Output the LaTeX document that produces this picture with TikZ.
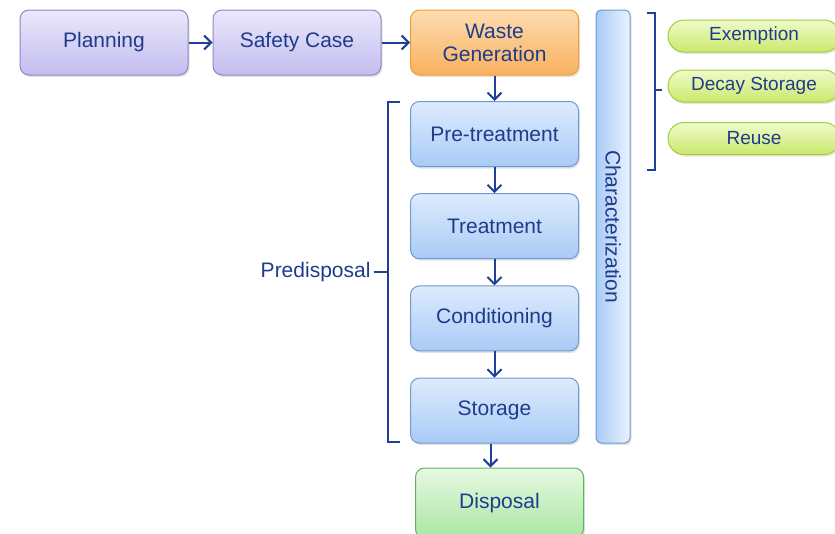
\documentclass[tikz,border=0pt]{standalone}
\usepackage{fontspec}
\setmainfont{Liberation Sans}
\usetikzlibrary{arrows.meta,shadows,positioning}
\definecolor{txtblue}{HTML}{1F3C8C}
\definecolor{linkblue}{HTML}{1F3F99}
\definecolor{plantop}{HTML}{EAE8FB}
\definecolor{planbot}{HTML}{C3BDEF}
\definecolor{planline}{HTML}{8E88C4}
\definecolor{wastetop}{HTML}{FDDCB0}
\definecolor{wastebot}{HTML}{F8B15E}
\definecolor{wasteline}{HTML}{EE9F34}
\definecolor{proctop}{HTML}{DEEBFD}
\definecolor{procbot}{HTML}{A8CBF6}
\definecolor{procline}{HTML}{6E9AD0}
\definecolor{disptop}{HTML}{E6F8E2}
\definecolor{dispbot}{HTML}{AAE6A1}
\definecolor{displine}{HTML}{5DB45D}
\definecolor{pilltop}{HTML}{F0FACB}
\definecolor{pillbot}{HTML}{CBE96C}
\definecolor{pillline}{HTML}{A2CE38}

\begin{document}
\begin{tikzpicture}[x=1pt, y=-1pt, >={Straight Barb[length=7pt,width=14pt]},
	every box/.style={draw, rounded corners=9pt, minimum width=168pt, minimum height=65pt,
		line width=1pt, text=txtblue, align=center, font=\fontsize{21}{25}\selectfont,
		drop shadow={opacity=0.22, shadow xshift=1.5pt, shadow yshift=-2pt}},
	plan box/.style={every box, draw=planline, top color=plantop, bottom color=planbot},
	waste box/.style={every box, draw=wasteline, top color=wastetop, bottom color=wastebot},
	proc box/.style={every box, draw=procline, top color=proctop, bottom color=procbot},
	disp box/.style={every box, draw=displine, top color=disptop, bottom color=dispbot},
	pill/.style={draw=pillline, line width=1pt, rounded corners=16pt, minimum width=172pt,
		minimum height=32pt, top color=pilltop, bottom color=pillbot, text=txtblue,
		font=\fontsize{19}{22}\selectfont,
		drop shadow={opacity=0.2, shadow xshift=1.5pt, shadow yshift=-2pt}},
	link/.style={->, draw=linkblue, line width=2pt},
	brace/.style={draw=linkblue, line width=1.8pt}]

		\useasboundingbox (0,0) rectangle (835,533);

		% top row
		\node [plan box] (planning) at (104,42.5) {Planning};
		\node [plan box] (safety) at (297,42.5) {Safety Case};
		\node [waste box] (waste) at (494.5,42.5) {Waste\\[-2pt]Generation};

		% predisposal steps
		\foreach \n/\t [count=\i] in {pre/Pre-treatment, treat/Treatment, cond/Conditioning, store/Storage}
		\node [proc box] (\n) at (494.5,{134+92.2*(\i-1)}) {\t};

		\node [disp box, minimum height=70pt] (disposal) at (499.5,503) {Disposal};

		% characterization bar
		\node [draw=procline, line width=1pt, rounded corners=5pt, rotate=-90,
			minimum width=433pt, minimum height=34pt, left color=procbot, right color=proctop!60,
			text=txtblue, font=\fontsize{21}{25}\selectfont,
			drop shadow={opacity=0.22, shadow xshift=1.5pt, shadow yshift=-2pt}]
			(charac) at (613,226.5) {Characterization};

		% options
		\node [pill] (exempt) at (754,36) {Exemption};
		\node [pill] (decay) at (754,86) {Decay Storage};
		\node [pill] (reuse) at (754,138.5) {Reuse};

		\draw [link] (planning) -- (safety);
		\draw [link] (safety) -- (waste);
		\foreach \a/\b in {waste/pre, pre/treat, treat/cond, cond/store}
		\draw [link] (\a) -- (\b);
		\draw [link] ([xshift=-4pt]store.south) -- ([xshift=-4pt]store.south |- disposal.north);

		% left bracket
		\node [text=txtblue, font=\fontsize{21}{25}\selectfont, anchor=east] (predisp) at (374,272) {Predisposal};
		\coordinate (lb-top) at (400,102);
		\coordinate (lb-bot) at (400,442);
		\coordinate (lb-mid) at (388,272);
		\draw [brace] (lb-top) -- (388,102) -- (388,442) -- (lb-bot);
		\draw [brace] (lb-mid) -- (predisp.east);

		% right bracket
		\coordinate (rb-top) at (647,13);
		\coordinate (rb-bot) at (647,170);
		\coordinate (rb-mid) at (655,90);
		\draw [brace] (rb-top) -- (655,13) -- (655,170) -- (rb-bot);
		\draw [brace] (rb-mid) -- ++(7,0);

\end{tikzpicture}
\end{document}
